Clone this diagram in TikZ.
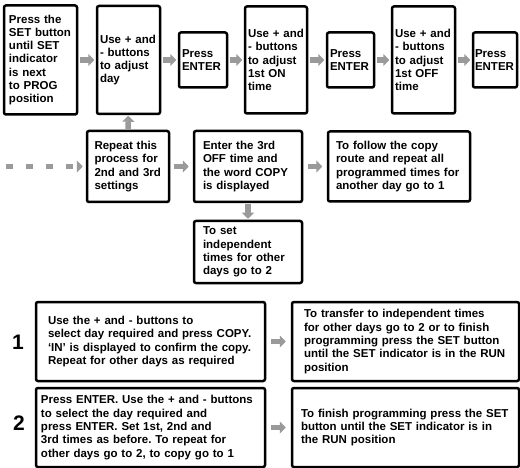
\documentclass[tikz,border=0pt]{standalone}
\usepackage{fontspec}
\setmainfont{Liberation Sans}
\usetikzlibrary{arrows.meta}
\definecolor{arrowgray}{HTML}{9A9A9A}
\hyphenpenalty=10000
\frenchspacing

\begin{document}
\begin{tikzpicture}[x=1pt,y=-1pt,
  box/.style={draw=black, line width=2.5pt, rounded corners=2pt, align=left, inner ysep=0pt,
    font=\fontsize{11.5}{13.3}\selectfont\bfseries},
  flow/.style={draw=arrowgray, line width=5.5pt, -{Triangle[length=6pt,width=12pt]},
    shorten <=1.5pt, shorten >=1.5pt},
  num/.style={font=\fontsize{21}{24}\selectfont\bfseries}]
\useasboundingbox (0,0) rectangle (520,468);
\node[box, inner xsep=5pt, text width=63pt, minimum height=109pt] (setprog) at (40.5,60)
  {Press the\\SET button\\until SET\\indicator\\is next\\to PROG\\position};
\node[box, inner xsep=3pt, text width=57pt, minimum height=108pt] (adjday) at (128.5,60)
  {Use + and\\- buttons\\to adjust\\day};
\node[box, inner xsep=3pt, text width=42pt, minimum height=55pt] (enter1) at (203,60)
  {Press\\ENTER};
\node[box, inner xsep=3pt, text width=56pt, minimum height=107pt] (adjon) at (276,60)
  {Use + and\\- buttons\\to adjust\\1st ON\\time};
\node[box, inner xsep=3pt, text width=41pt, minimum height=55pt] (enter2) at (350.5,60)
  {Press\\ENTER};
\node[box, inner xsep=3pt, text width=57pt, minimum height=107pt] (adjoff) at (423.5,60)
  {Use + and\\- buttons\\to adjust\\1st OFF\\time};
\node[box, inner xsep=2pt, text width=40pt, minimum height=55pt] (enter3) at (495,60)
  {Press\\ENTER};
\node[box, inner xsep=7.5pt, text width=67pt, minimum height=71pt] (repeat) at (128,166.5)
  {Repeat this\\process for\\2nd and 3rd\\settings};
\node[box, inner xsep=9pt, text width=90pt, minimum height=71pt] (copyshown) at (248,166.5)
  {Enter the 3rd\\OFF time and\\the word COPY\\is displayed};
\node[box, inner xsep=8pt, text width=126pt, minimum height=70pt] (copyroute) at (399,166.5)
  {To follow the copy\\route and repeat all\\programmed times for\\another day go to 1};
\node[box, inner xsep=9pt, text width=90pt, minimum height=62pt] (indep) at (248,252)
  {To set\\independent\\times for other\\days go to 2};
\node[box, inner xsep=12pt, text width=205pt, minimum height=79pt] (copystep) at (150.5,341.5)
  {Use the + and - buttons to\\select day required and press COPY.\\‘IN’ is displayed to confirm the copy.\\Repeat for other days as required};
\node[box, inner xsep=12pt, text width=203pt, minimum height=79pt] (copyend) at (405.5,341.5)
  {To transfer to independent times\\for other days go to 2 or to finish\\programming press the SET button\\until the SET indicator is in the RUN\\position};
\node[box, inner xsep=5pt, text width=219pt, minimum height=79pt] (indepstep) at (150.5,427.5)
  {Press ENTER. Use the + and - buttons\\to select the day required and\\press ENTER. Set 1st, 2nd and\\3rd times as before. To repeat for\\other days go to 2, to copy go to 1};
\node[box, inner xsep=9pt, text width=209pt, minimum height=79pt] (independ) at (405.5,427.5)
  {To finish programming press the SET\\button until the SET indicator is in\\the RUN position};
\node[num] (one) at (18,342) {1};
\node[num] (two) at (19,423) {2};
\coordinate (dashstart) at (6,166.5);
\draw[flow] (setprog) -- (adjday);
\draw[flow] (adjday) -- (enter1);
\draw[flow] (enter1) -- (adjon);
\draw[flow] (adjon) -- (enter2);
\draw[flow] (enter2) -- (adjoff);
\draw[flow] (adjoff) -- (enter3);
\draw[flow, shorten <=0.5pt, shorten >=0.5pt] (repeat) -- (adjday);
\draw[flow, dash pattern=on 7pt off 13pt, shorten <=0pt, shorten >=3pt] (dashstart) -- (repeat);
\draw[flow, shorten <=4pt, shorten >=4pt] (repeat) -- (copyshown);
\draw[flow, shorten <=4.5pt, shorten >=4.5pt] (copyshown) -- (copyroute);
\draw[flow, shorten <=1pt, shorten >=1pt] (copyshown) -- (indep);
\draw[flow, shorten <=5pt, shorten >=5pt] (copystep) -- (copyend);
\draw[flow, shorten <=5pt, shorten >=5pt] (indepstep) -- (independ);
\end{tikzpicture}
\end{document}
